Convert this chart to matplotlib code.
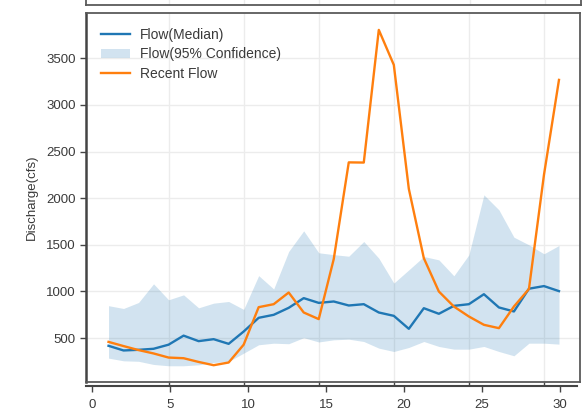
import matplotlib
matplotlib.use("Agg")
import matplotlib.pyplot as plt
import numpy as np

plt.rcParams['font.family'] = ['Liberation Sans', 'DejaVu Sans']

days = list(range(1, 32))
median_flow = [418, 368, 375, 386, 430, 527, 468, 489, 439, 571, 718, 750, 825, 929, 878,
               893, 850, 864, 775, 739, 600, 821, 761, 846, 864, 971, 829, 786, 1030, 1058, 1004]
recent_flow = [460, 415, 372, 336, 292, 285, 245, 210, 239, 430, 832, 864, 989, 775, 704,
               1348, 2384, 2382, 3804, 3429, 2100, 1357, 1000, 839, 732, 643, 607, 839, 1027, 2250, 3268]
upper_flow = [848, 818, 882, 1082, 911, 964, 825, 875, 893, 808, 1170, 1027, 1429, 1650, 1415,
              1395, 1378, 1536, 1357, 1090, 1232, 1375, 1339, 1168, 1393, 2036, 1875, 1582, 1500, 1404, 1493]
lower_flow = [286, 257, 252, 218, 204, 204, 214, 239, 250, 339, 429, 446, 440, 505, 459,
              482, 489, 464, 393, 357, 400, 464, 411, 382, 382, 411, 357, 311, 446, 446, 436]
axis_ticks = [0, 5, 10, 15, 20, 25, 30]
y_ticks = [500, 1000, 1500, 2000, 2500, 3000, 3500]

W, H = 584, 416
fig = plt.figure(figsize=(W / 100, H / 100), dpi=100)

frame_col = '#5a5a5a'
grid_col = '#ececec'
text_col = '#3a3a3a'

# main axes
ax = fig.add_axes([86 / W, (H - 382) / H, (580 - 86) / W, (382 - 13) / H])
ax.fill_between(days, lower_flow, upper_flow, color='#1f77b4', alpha=0.2, linewidth=0,
                label='Flow(95% Confidence)')
ax.plot(days, median_flow, color='#1f77b4', lw=1.7, label='Flow(Median)')
ax.plot(days, recent_flow, color='#ff7f0e', lw=1.7, label='Recent Flow')
ax.set_ylim(30, 3985)
ax.set_xlim(-0.5, 32.4)
ax.set_yticks(y_ticks)
ax.set_xticks([5, 10, 15, 20, 25, 30])
ax.tick_params(axis='x', labelbottom=False, length=2.5, width=1, color='#444444')
ax.tick_params(axis='y', length=4.5, width=1, color='#444444', labelsize=9.5,
               labelcolor=text_col, pad=3)
ax.grid(True, color=grid_col, lw=1)
ax.set_axisbelow(True)
for s in ['top', 'right', 'bottom']:
    ax.spines[s].set_color(frame_col)
    ax.spines[s].set_linewidth(1.3)
ax.spines['left'].set_color('#444444')
ax.spines['left'].set_linewidth(1.8)
ax.set_ylabel('Discharge(cfs)', fontsize=9.5, color=text_col, labelpad=6)

handles, labels = ax.get_legend_handles_labels()
order = [labels.index('Flow(Median)'), labels.index('Flow(95% Confidence)'), labels.index('Recent Flow')]
ax.legend([handles[i] for i in order], [labels[i] for i in order], loc='upper left',
          frameon=False, fontsize=10, labelspacing=0.42, handlelength=2.1,
          handletextpad=0.75, borderaxespad=0.55, borderpad=0.5, labelcolor=text_col)

# top panel (partially visible)
axt = fig.add_axes([86 / W, (H - 5) / H, (581 - 86) / W, 0.2])
axt.set_xlim(ax.get_xlim())
axt.set_xticks([5, 10, 15, 20, 25, 30])
axt.set_yticks([])
axt.tick_params(axis='x', labelbottom=False, length=0)
axt.grid(True, color=grid_col, lw=1)
for s in axt.spines.values():
    s.set_color(frame_col)
    s.set_linewidth(1.3)

# detached bottom axis
axb = fig.add_axes([86 / W, (H - 386) / H, (577 - 86) / W, 0.0001])
axb.set_xlim(-0.385, 31.09)
axb.set_xticks(axis_ticks)
axb.set_yticks([])
axb.patch.set_visible(False)
for s in ['top', 'right', 'left']:
    axb.spines[s].set_visible(False)
axb.spines['bottom'].set_color('#444444')
axb.spines['bottom'].set_linewidth(1.5)
axb.tick_params(axis='x', length=4.5, width=1, color='#444444', labelsize=9.5,
                labelcolor=text_col, pad=5)

fig.savefig('out.png', dpi=100)
